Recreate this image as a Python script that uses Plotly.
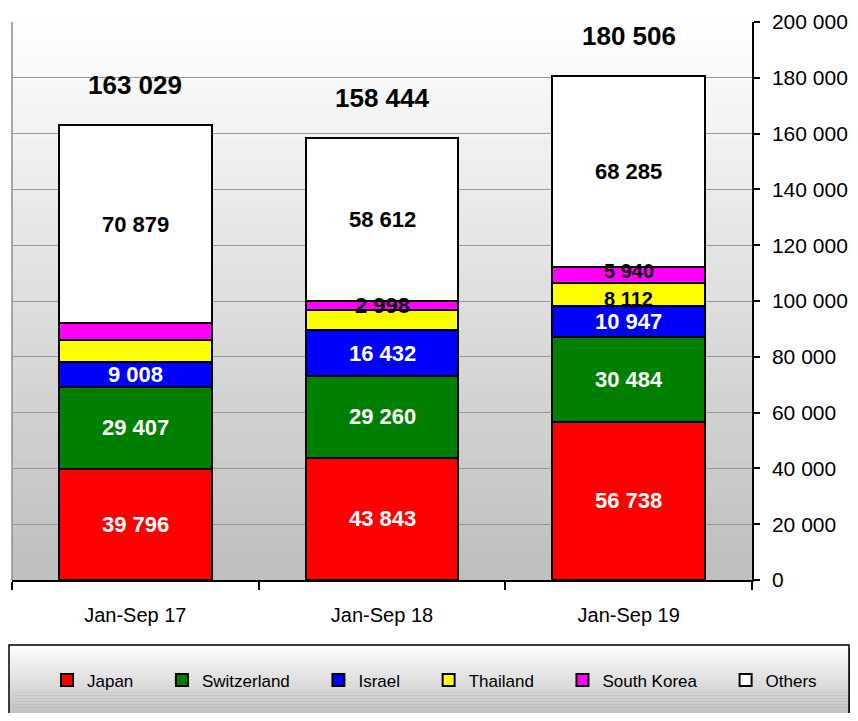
import plotly.graph_objects as go

categories = ["Jan-Sep 17", "Jan-Sep 18", "Jan-Sep 19"]
series_names = ["Japan", "Switzerland", "Israel", "Thailand", "South Korea", "Others"]
japan = [39796, 43843, 56738]
switzerland = [29407, 29260, 30484]
israel = [9008, 16432, 10947]
thailand = [7750, 7299, 8112]
south_korea = [6189, 2998, 5940]
others = [70879, 58612, 68285]
totals = [163029, 158444, 180506]
# labels not printed in the original chart: (series, category index)
hidden_labels = {("Thailand", 0), ("South Korea", 0), ("Thailand", 1)}

values = [japan, switzerland, israel, thailand, south_korea, others]
colors = ["#FF0000", "#008000", "#0000FF", "#FFFF00", "#FF00FF", "#FFFFFF"]
label_colors = ["white", "white", "white", "black", "black", "black"]
# small nudges so the thin-band labels do not collide
label_nudge = {("South Korea", 2): 4, ("Thailand", 2): -4}

FONT = "Liberation Sans, Arial, sans-serif"

def fmt(v):
    return f"{v:,}".replace(",", " ")

# the page body has an 8px margin; figure is sized to fit the 858x721 window
OFF = 8
W, H = 858 - 2 * OFF, 721 - 2 * OFF
# plot area in window pixels: x 12..752, y 22..580
ML, MT = 12 - OFF, 22 - OFF
MR = W - (752 - OFF)
MB = H - (580 - OFF)
PW, PH = W - ML - MR, H - MT - MB

def px_x(x):  # window px -> paper
    return (x - OFF - ML) / PW

def px_y(y):
    return (H - MB - (y - OFF)) / PH

fig = go.Figure()
for name, vals, col in zip(series_names, values, colors):
    fig.add_trace(go.Bar(
        name=name + "\u00a0" * 5, x=categories, y=vals,
        marker=dict(color=col, line=dict(color="black", width=2)),
        width=0.62, hoverinfo="skip",
    ))

annotations = []
base = [0, 0, 0]
for name, vals, lc in zip(series_names, values, label_colors):
    for i, v in enumerate(vals):
        if (name, i) not in hidden_labels:
            small = (name, i) in label_nudge
            annotations.append(dict(
                x=categories[i], y=base[i] + v / 2, xref="x", yref="y",
                text=fmt(v), showarrow=False,
                yshift=label_nudge.get((name, i), 0),
                font=dict(family=FONT, size=20 if small else 22, color=lc, weight="bold"),
            ))
        base[i] += v

for i, t in enumerate(totals):
    annotations.append(dict(
        x=categories[i], y=t, xref="x", yref="y", text=fmt(t),
        showarrow=False, yanchor="middle", yshift=40,
        font=dict(family=FONT, size=26, color="black", weight="bold"),
    ))

shapes = []
# plot area vertical gradient
n = 56
for k in range(n):
    g = round(255 - (255 - 190) * (k + 0.5) / n)
    shapes.append(dict(
        type="rect", xref="x domain", yref="y domain",
        x0=0, x1=1, y0=1 - (k + 1) / n, y1=1 - k / n + 0.002,
        fillcolor=f"rgb({g},{g},{g})", line=dict(width=0), layer="below",
    ))
# left border
shapes.append(dict(type="line", xref="x domain", yref="y domain",
                   x0=0, x1=0, y0=0, y1=1, line=dict(color="#8c8c8c", width=1.5),
                   layer="below"))

# legend box with shadow and gradient (window px)
lx0, lx1, ly0, ly1 = 9, 849, 645, 716
shapes.append(dict(type="rect", xref="paper", yref="paper",
                   x0=px_x(lx0 + 3), x1=px_x(lx1 + 3), y0=px_y(ly1 + 3), y1=px_y(ly0 + 3),
                   fillcolor="#404040", line=dict(width=0)))
m = 24
for k in range(m):
    g = round(255 - (255 - 192) * (k + 0.5) / m)
    ya = ly0 + (ly1 - ly0) * k / m
    yb = ly0 + (ly1 - ly0) * (k + 1) / m + 0.5
    shapes.append(dict(type="rect", xref="paper", yref="paper",
                       x0=px_x(lx0), x1=px_x(lx1), y0=px_y(yb), y1=px_y(ya),
                       fillcolor=f"rgb({g},{g},{g})", line=dict(width=0)))
shapes.append(dict(type="rect", xref="paper", yref="paper",
                   x0=px_x(lx0), x1=px_x(lx1), y0=px_y(ly1), y1=px_y(ly0),
                   fillcolor="rgba(0,0,0,0)", line=dict(color="black", width=1.5)))

fig.update_layout(
    width=W, height=H,
    margin=dict(l=ML, r=MR, t=MT, b=MB, autoexpand=False),
    barmode="stack",
    paper_bgcolor="white",
    plot_bgcolor="rgba(0,0,0,0)",
    separators=", ",
    font=dict(family=FONT, color="black"),
    showlegend=True,
    legend=dict(
        orientation="h",
        x=px_x(846), xanchor="right",
        y=px_y((ly0 + ly1) / 2), yanchor="middle",
        bgcolor="rgba(0,0,0,0)", font=dict(family=FONT, size=17),
        traceorder="normal", itemclick=False, itemdoubleclick=False,
        itemwidth=30,
    ),
    xaxis=dict(
        type="category", showline=True, linecolor="black", linewidth=1.5,
        ticks="outside", tickson="boundaries", ticklen=8, tickcolor="black",
        tickwidth=1.5, tickfont=dict(family=FONT, size=20),
        ticklabelstandoff=16, automargin=False,
        showgrid=False, fixedrange=True,
    ),
    yaxis=dict(
        side="right", range=[0, 200000], dtick=20000, tickformat=",d",
        showline=True, linecolor="black", linewidth=1.5,
        ticks="outside", ticklen=6, tickcolor="black", tickwidth=1.5,
        tickfont=dict(family=FONT, size=21), ticklabelstandoff=8,
        automargin=False,
        showgrid=True, gridcolor="#999999", gridwidth=1,
        zeroline=False, fixedrange=True,
    ),
    annotations=annotations,
    shapes=shapes,
)

fig.write_html("out.html")
